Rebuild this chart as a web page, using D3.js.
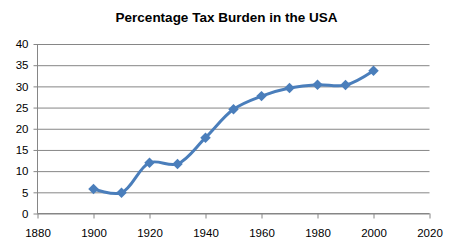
<!DOCTYPE html>
<html>
<head>
<meta charset="utf-8">
<script src="https://cdn.jsdelivr.net/npm/d3@7"></script>
<style>
  body { margin: 0; background: #fff; }
  text { font-family: "Liberation Sans", Arial, sans-serif; }
</style>
</head>
<body>
<svg id="chart" width="452" height="252"></svg>
<script>
// data
const years = [1900, 1910, 1920, 1930, 1940, 1950, 1960, 1970, 1980, 1990, 2000];
const burden = [5.8, 4.9, 12.0, 11.7, 17.9, 24.6, 27.7, 29.6, 30.4, 30.3, 33.7];
const xTicks = [1880, 1900, 1920, 1940, 1960, 1980, 2000, 2020];
const yTicks = [0, 5, 10, 15, 20, 25, 30, 35, 40];
const title = 'Percentage Tax Burden in the USA';

const svg = d3.select('#chart');
const margin = {left: 37.5, right: 22.5, top: 44, bottom: 38.5};
const width = 452, height = 252;

// scales
let x = d3.scaleLinear().domain([1880, 2020]).range([margin.left, width - margin.right]);
let y = d3.scaleLinear().domain([0, 40]).range([height - margin.bottom, margin.top]);

// title
svg.append('text')
    .attr('x', 226.5)
    .attr('y', 22)
    .attr('text-anchor', 'middle')
    .style('font-size', '13.5px')
    .style('font-weight', 'bold')
    .text(title);

// gridlines + y axis
let yAxis = d3.axisLeft(y)
    .tickValues(yTicks)
    .tickSize(-(x(2020) - x(1880)))
    .tickPadding(9);
let gy = svg.append('g')
    .attr('transform', `translate(${x(1880)},0)`)
    .call(yAxis);
gy.select('.domain').remove();
gy.selectAll('.tick line').attr('stroke', '#868686').attr('x1', -4);
gy.selectAll('.tick text').style('font-size', '11.5px').attr('fill', '#000');

// x axis
let xAxis = d3.axisBottom(x)
    .tickValues(xTicks)
    .tickFormat(d3.format('d'))
    .tickSize(5)
    .tickPadding(10);
let gx = svg.append('g')
    .attr('transform', `translate(0,${y(0)})`)
    .call(xAxis);
gx.select('.domain').attr('stroke', '#868686').attr('d', `M${x(1880)},0H${x(2020)}`);
gx.selectAll('.tick line').attr('stroke', '#868686');
gx.selectAll('.tick text').style('font-size', '11.5px').attr('fill', '#000');

// vertical axis line
svg.append('line')
    .attr('x1', x(1880)).attr('x2', x(1880))
    .attr('y1', y(40)).attr('y2', y(0))
    .attr('stroke', '#868686');

// smoothed series line
let pts = years.map((yr, i) => [yr, burden[i]]);
let line = d3.line()
    .x(d => x(d[0]))
    .y(d => y(d[1]))
    .curve(d3.curveCatmullRom.alpha(0.5));
svg.append('path')
    .datum(pts)
    .attr('d', line)
    .attr('fill', 'none')
    .attr('stroke', '#4a7ebb')
    .attr('stroke-width', 3)
    .attr('stroke-linejoin', 'round');

// diamond markers
let diamond = d3.symbol().type(d3.symbolDiamond2).size(70);
svg.append('g').selectAll('path')
    .data(pts)
    .join('path')
    .attr('transform', d => `translate(${x(d[0])},${y(d[1])})`)
    .attr('d', diamond)
    .attr('fill', '#4a7ebb');
</script>
</body>
</html>
